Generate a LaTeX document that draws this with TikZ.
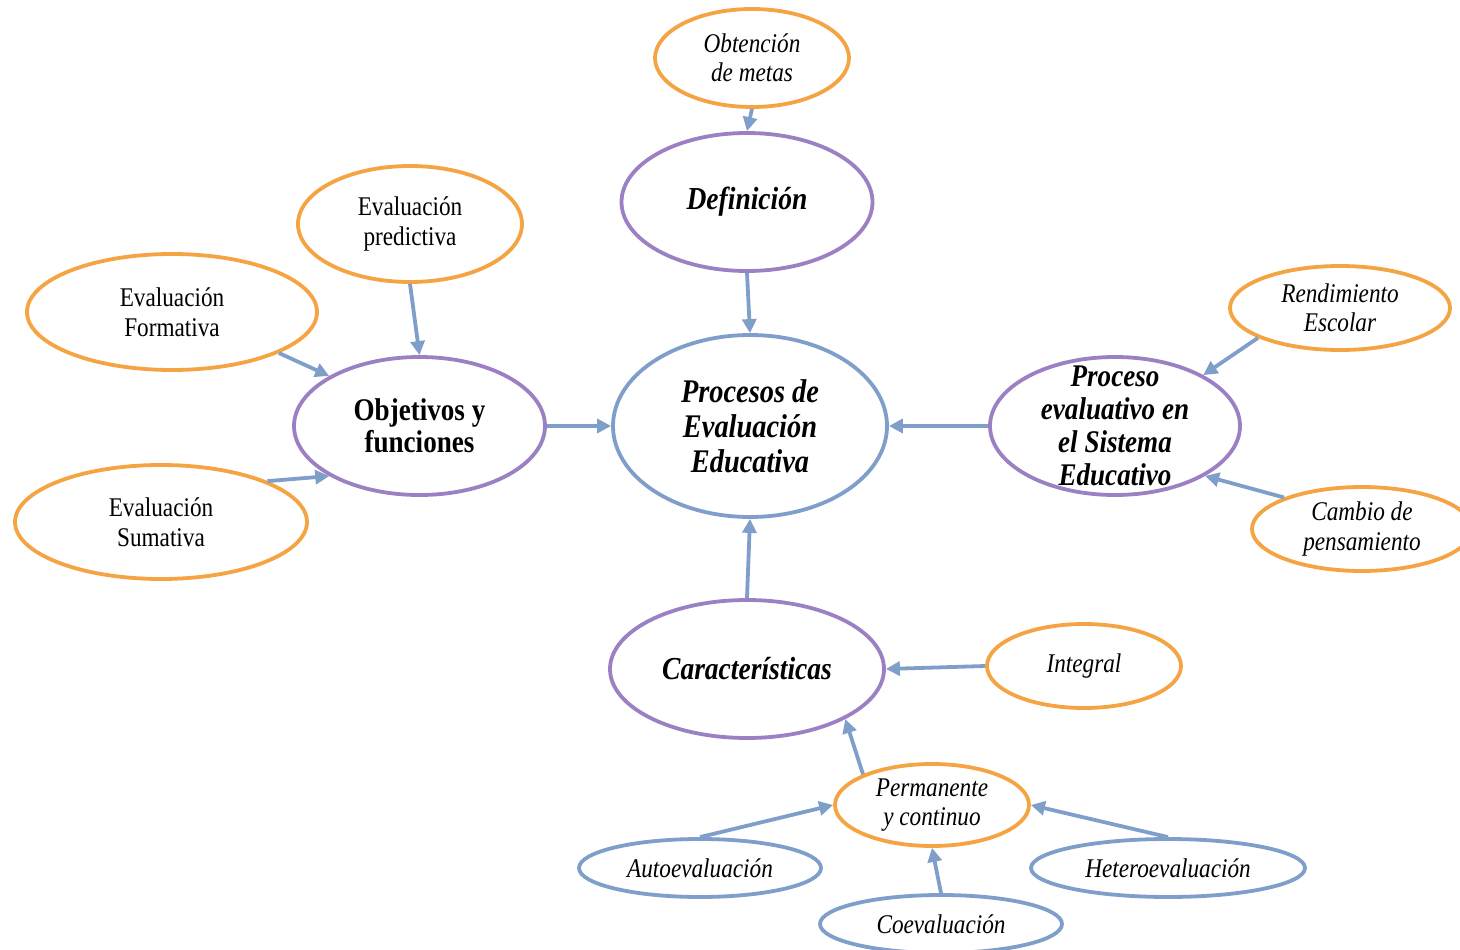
\documentclass[tikz,border=0pt]{standalone}
\usepackage{fontspec}
\setmainfont{Liberation Serif}[FakeStretch=0.86]
\usetikzlibrary{shapes.geometric,arrows.meta}
\definecolor{cOrange}{RGB}{244,164,66}
\definecolor{cPurple}{RGB}{155,128,196}
\definecolor{cBlue}{RGB}{127,159,202}
\tikzset{
  ell/.style={ellipse, draw, line width=3.8pt, inner sep=0pt, align=center, fill=white},
  orangeell/.style={ell, draw=cOrange},
  purpleell/.style={ell, draw=cPurple},
  blueell/.style={ell, draw=cBlue},
  smalltxt/.style={font=\fontsize{27}{29.5}\selectfont},
  smallit/.style={font=\fontsize{27}{29.5}\selectfont\itshape},
  bigbi/.style={font=\fontsize{32}{34.5}\selectfont\bfseries\itshape},
  conn/.style={draw=cBlue, line width=3.8pt, -{Triangle[length=14pt,width=14pt]}},
}
\begin{document}
\begin{tikzpicture}[x=1pt,y=-1pt]
\useasboundingbox (0,0) rectangle (1460,950);
% central
\node[blueell, bigbi, font=\fontsize{33}{35}\selectfont\bfseries\itshape, minimum width=274, minimum height=182] (proc) at (750,426) {Procesos de\\Evaluación\\Educativa};
% top
\node[purpleell, bigbi, minimum width=251, minimum height=138] (def) at (747,202) {Definición};
\node[orangeell, smallit, minimum width=194, minimum height=98] (obt) at (752,58) {Obtención\\de metas};
% left
\node[purpleell, font=\fontsize{31.5}{32}\selectfont\bfseries, minimum width=251, minimum height=138] (obj) at (419.5,426) {Objetivos y\\funciones};
\node[orangeell, smalltxt, minimum width=224, minimum height=116] (pred) at (410,224) {Evaluación\\predictiva};
\node[orangeell, smalltxt, minimum width=290, minimum height=116] (form) at (172,312) {Evaluación\\Formativa};
\node[orangeell, smalltxt, minimum width=292, minimum height=114] (sum) at (161,522) {Evaluación\\Sumativa};
% right
\node[purpleell, minimum width=250, minimum height=138,
  label={[font=\fontsize{31.5}{33}\selectfont\bfseries\itshape, align=center]center:Proceso\\evaluativo en\\el Sistema\\Educativo}] (pe) at (1115,426) {};
\node[orangeell, smallit, minimum width=220, minimum height=84] (rend) at (1340,308) {Rendimiento\\Escolar};
\node[orangeell, smallit, minimum width=220, minimum height=84] (camb) at (1362,529) {Cambio de\\pensamiento};
% bottom
\node[purpleell, bigbi, minimum width=274, minimum height=138] (car) at (747,669) {Características};
\node[orangeell, smallit, minimum width=194, minimum height=84] (int) at (1084,666) {Integral};
\node[orangeell, smallit, minimum width=194, minimum height=82] (perm) at (932,805) {Permanente\\y continuo};
\node[blueell, smallit, minimum width=242, minimum height=58] (auto) at (700,868) {Autoevaluación};
\node[blueell, smallit, minimum width=274, minimum height=58] (het) at (1168,868) {Heteroevaluación};
\node[blueell, smallit, minimum width=242, minimum height=58] (coe) at (941,924) {Coevaluación};
% connectors
\draw[conn] (obt.south) -- (def.north);
\draw[conn] (def.south) -- (proc.north);
\draw[conn] (obj.east) -- (proc.west);
\draw[conn] (pe.west) -- (proc.east);
\draw[conn] (car.north) -- (proc.south);
\draw[conn] (pred.south) -- (obj.north);
\draw[conn] (form.-21) -- (obj.151);
\draw[conn] (sum.21) -- (obj.209);
\draw[conn] (rend.200) -- (pe.30);
\draw[conn] (camb.158) -- (pe.-29);
\draw[conn] (int.west) -- (car.east);
\draw[conn] (perm.156) -- (car.-27);
\draw[conn] (auto.north) -- (perm.west);
\draw[conn] (het.north) -- (perm.east);
\draw[conn] (coe.north) -- (perm.south);
\end{tikzpicture}
\end{document}
